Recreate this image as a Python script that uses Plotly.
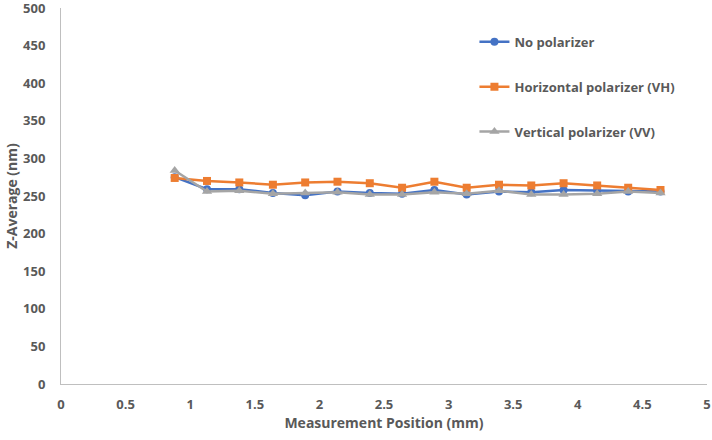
import plotly.graph_objects as go

positions = [0.88, 1.13, 1.38, 1.64, 1.89, 2.14, 2.39, 2.64, 2.89, 3.14, 3.39, 3.64, 3.89, 4.15, 4.39, 4.64]
no_polarizer = [275, 259, 259, 254, 251, 256, 254, 253, 258, 252, 256, 255, 258, 257, 256, 256]
horizontal_vh = [274, 270, 268, 265, 268, 269, 267, 261, 269, 261, 265, 264, 267, 264, 261, 258]
vertical_vv = [284, 256, 257, 253, 254, 255, 252, 252, 255, 253, 257, 252, 252, 253, 256, 254]

x_ticks = [0, 0.5, 1, 1.5, 2, 2.5, 3, 3.5, 4, 4.5, 5]
x_tick_labels = ["0", "0.5", "1", "1.5", "2", "2.5", "3", "3.5", "4", "4.5", "5"]
y_ticks = [0, 50, 100, 150, 200, 250, 300, 350, 400, 450, 500]

font_family = "Open Sans, Liberation Sans, sans-serif"
text_color = "#595959"

fig = go.Figure()
series = [
    ("No polarizer", no_polarizer, "#4472C4", "circle", 8),
    ("Horizontal polarizer (VH)", horizontal_vh, "#ED7D31", "square", 8),
    ("Vertical polarizer (VV)", vertical_vv, "#A5A5A5", "triangle-up", 9),
]
for i, (name, vals, color, sym, size) in enumerate(series):
    fig.add_trace(go.Scatter(
        x=positions, y=vals, name=name, mode="lines+markers",
        line=dict(color=color, width=2.5),
        marker=dict(color=color, symbol=sym, size=size),
        legendgroup=f"g{i}",
    ))

fig.update_layout(
    width=712, height=440,
    margin=dict(l=61, r=5, t=8, b=56),
    plot_bgcolor="white", paper_bgcolor="white",
    font=dict(family=font_family, color=text_color, size=13),
    showlegend=True,
    legend=dict(
        x=0.64, y=0.95, xanchor="left", yanchor="top",
        font=dict(size=13, family=font_family, color=text_color, weight="bold"),
        tracegroupgap=25, itemwidth=30, bgcolor="rgba(0,0,0,0)",
    ),
    xaxis=dict(
        range=[0, 5], tickvals=x_ticks, ticktext=x_tick_labels, automargin=False,
        showgrid=False, zeroline=False, showline=True, linecolor="#BFBFBF", linewidth=1,
        ticks="", ticklabelstandoff=8, tickfont=dict(size=13, weight="bold", color=text_color),
        title=dict(text="Measurement Position (mm)", font=dict(size=14, weight="bold", color=text_color), standoff=6),
    ),
    yaxis=dict(
        range=[0, 500], tickvals=y_ticks, automargin=False,
        showgrid=False, zeroline=False, showline=True, linecolor="#BFBFBF", linewidth=1,
        ticks="", ticklabelstandoff=12, ticklabeloverflow="allow",
        tickfont=dict(size=13, weight="bold", color=text_color),
        title=dict(text="Z-Average (nm)", font=dict(size=14, weight="bold", color=text_color), standoff=2),
    ),
)

fig.write_html("out.html", config={"displayModeBar": False},
               post_script="document.body.style.margin='0';")
